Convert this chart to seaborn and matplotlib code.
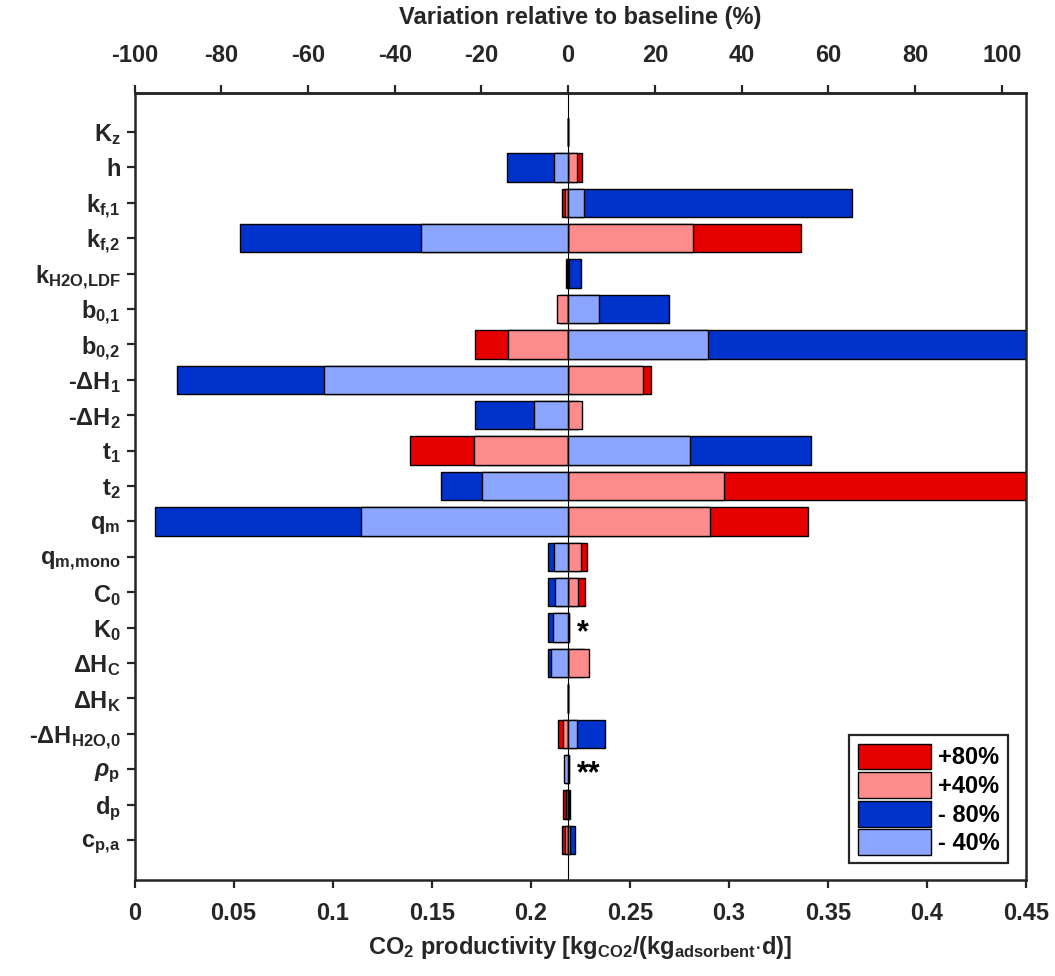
import numpy as np
import pandas as pd
import matplotlib
matplotlib.use("Agg")
import matplotlib.pyplot as plt
import seaborn as sns

# baseline CO2 productivity and the one-at-a-time sensitivity results
baseline = 0.2189

params = [r'$\mathbf{K_z}$', r'$\mathbf{h}$', r'$\mathbf{k_{f,\!1}}$', r'$\mathbf{k_{f,\!2}}$',
          r'$\mathbf{k_{H2O,\!LDF}}$', r'$\mathbf{b_{0,\!1}}$', r'$\mathbf{b_{0,\!2}}$',
          r'-$\mathbf{\Delta H_1}$', r'-$\mathbf{\Delta H_2}$', r'$\mathbf{t_1}$', r'$\mathbf{t_2}$',
          r'$\mathbf{q_m}$', r'$\mathbf{q_{m,\!mono}}$', r'$\mathbf{C_0}$', r'$\mathbf{K_0}$',
          r'$\mathbf{\Delta H_C}$', r'$\mathbf{\Delta H_K}$', r'-$\mathbf{\Delta H_{H2O,\!0}}$',
          r'$\rho_\mathbf{p}$', r'$\mathbf{d_p}$', r'$\mathbf{c_{p,\!a}}$']

plus80 = [0.2189, 0.2260, 0.2158, 0.3364, 0.2180, 0.2150, 0.1718, 0.2608, 0.2240, 0.1392, 0.4800,
          0.3402, 0.2285, 0.2273, 0.2192, 0.2270, 0.2189, 0.2139, 0.2192, 0.2163, 0.2158]
plus40 = [0.2189, 0.2234, 0.2171, 0.2819, 0.2182, 0.2133, 0.1887, 0.2568, 0.2257, 0.1716, 0.2978,
          0.2905, 0.2255, 0.2241, 0.2192, 0.2295, 0.2189, 0.2165, 0.2194, 0.2180, 0.2175]
minus80 = [0.2189, 0.1880, 0.3621, 0.0532, 0.2254, 0.2696, 0.4800, 0.0213, 0.1718, 0.3416, 0.1549,
           0.0105, 0.2089, 0.2089, 0.2089, 0.2089, 0.2189, 0.2376, 0.2172, 0.2200, 0.2225]
minus40 = [0.2189, 0.2116, 0.2269, 0.1444, 0.2195, 0.2346, 0.2896, 0.0958, 0.2019, 0.2805, 0.1754,
           0.1145, 0.2116, 0.2123, 0.2114, 0.2103, 0.2189, 0.2234, 0.2168, 0.2195, 0.2200]

levels = ['+80%', '+40%', '- 80%', '- 40%']
colors = ['#E60000', '#FF8C8C', '#0033CC', '#8CA5FF']

x_ticks = [0, 0.05, 0.1, 0.15, 0.2, 0.25, 0.3, 0.35, 0.4, 0.45]
top_ticks = [-100, -80, -60, -40, -20, 0, 20, 40, 60, 80, 100]

# long table, bars are drawn as deviation from the baseline
frames = []
for lev, vals in zip(levels, [plus80, plus40, minus80, minus40]):
    frames.append(pd.DataFrame({'param': params, 'level': lev, 'value': vals}))
df = pd.concat(frames, ignore_index=True)
df['delta'] = df['value'] - baseline

sns.set_theme(style='ticks')
plt.rcParams['font.family'] = ['Liberation Sans', 'DejaVu Sans']
plt.rcParams['font.weight'] = 'bold'
plt.rcParams['mathtext.fontset'] = 'custom'
plt.rcParams['mathtext.rm'] = 'Liberation Sans'
plt.rcParams['mathtext.bf'] = 'Liberation Sans:bold'
plt.rcParams['mathtext.it'] = 'Liberation Sans:italic:bold'

ink = '#262626'
fig = plt.figure(figsize=(10.55, 9.76), dpi=100)
ax = fig.add_axes([0.1275, 0.0984, 0.845, 0.8063])

sns.barplot(data=df, y='param', x='delta', hue='level', hue_order=levels,
            palette=colors, order=params, dodge=False, width=0.8,
            edgecolor='black', linewidth=1.0, saturation=1, ax=ax)

ax.axvline(0, color='black', lw=0.8, zorder=5)

ax.set_xlim(-baseline, 0.45 - baseline)
ax.set_ylim(len(params) - 1 + 1.13, -1.10)
ax.set_xticks([t - baseline for t in x_ticks])
ax.set_xticklabels([f'{t:g}' for t in x_ticks])
ax.set_ylabel('')
ax.set_xlabel(r'CO$_\mathbf{2}$ productivity [kg$_\mathbf{CO2}$/(kg$_\mathbf{adsorbent}$$\mathbf{\cdot}$d)]',
              fontsize=17, fontweight='bold', color=ink, labelpad=6)

for s in ax.spines.values():
    s.set_visible(True)
    s.set_linewidth(1.8)
    s.set_color(ink)
ax.tick_params(axis='both', which='major', direction='out', length=6, width=1.6,
               color=ink, labelcolor=ink, labelsize=17)
ax.tick_params(axis='x', pad=10)
ax.tick_params(axis='y', pad=4)
for lab in ax.get_xticklabels() + ax.get_yticklabels():
    lab.set_fontweight('bold')

top = ax.secondary_xaxis('top', functions=(lambda d: d / baseline * 100,
                                           lambda p: p * baseline / 100))
top.set_xticks(top_ticks)
top.set_xticklabels([str(t) for t in top_ticks])
top.tick_params(direction='out', length=6, width=1.6, color=ink, labelcolor=ink,
                labelsize=17, pad=13)
for lab in top.get_xticklabels():
    lab.set_fontweight('bold')
top.spines['top'].set_linewidth(1.8)
top.spines['top'].set_color(ink)
top.set_xlabel('Variation relative to baseline (%)', fontsize=17, fontweight='bold',
               color=ink, labelpad=14)

# significance marks next to K0 and rho_p
for name, mark in [(r'$\mathbf{K_0}$', '*'), (r'$\rho_\mathbf{p}$', '**')]:
    i = params.index(name)
    right = max(plus80[i], plus40[i], minus80[i], minus40[i]) - baseline
    ax.text(right + 0.004, i + 0.15, mark, fontsize=22, fontweight='bold',
            color='black', ha='left', va='center')

handles, labels = ax.get_legend_handles_labels()
leg = ax.legend(handles, labels, loc='lower right', bbox_to_anchor=(0.985, 0.015),
                fontsize=17, frameon=True, fancybox=False, framealpha=1,
                edgecolor=ink, handlelength=3.1, handleheight=1.3,
                labelspacing=0.12, handletextpad=0.3, borderpad=0.35,
                borderaxespad=0.2)
leg.get_frame().set_linewidth(1.6)
for t in leg.get_texts():
    t.set_fontweight('bold')
    t.set_color('black')

fig.savefig('out.png', dpi=100)
